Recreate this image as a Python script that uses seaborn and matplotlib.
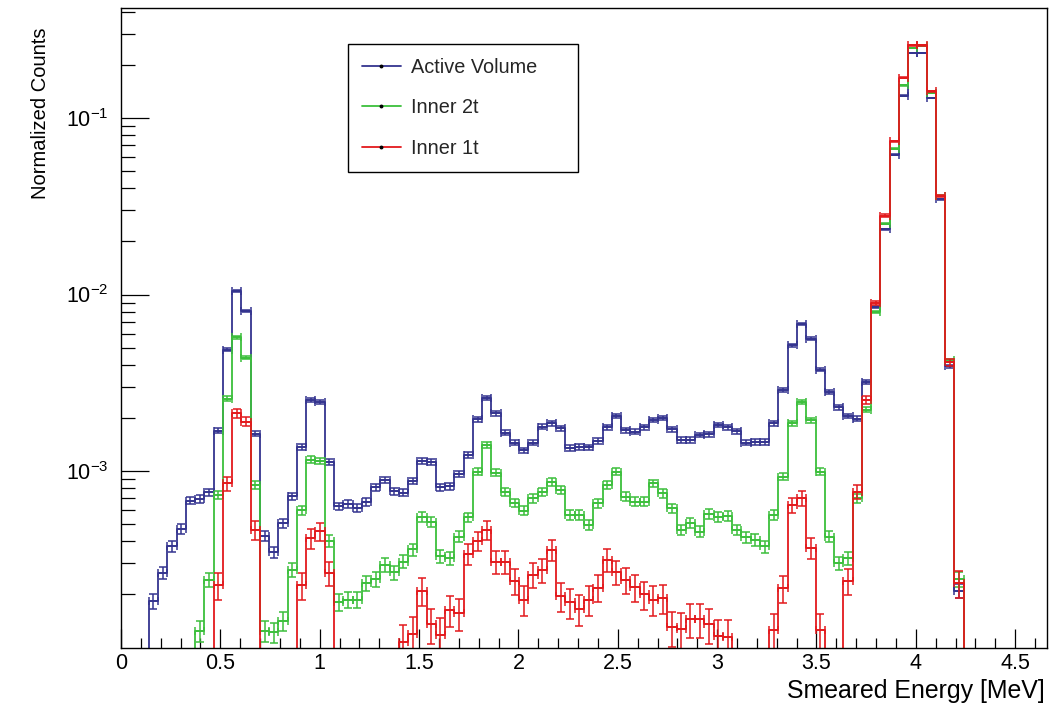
import numpy as np
import pandas as pd
import matplotlib
matplotlib.use("Agg")
import matplotlib.pyplot as plt
import seaborn as sns
from matplotlib.lines import Line2D
from matplotlib.ticker import (MultipleLocator, FixedLocator, LogLocator,
                               NullFormatter, LogFormatterSciNotation,
                               FuncFormatter)

# Histogram binning: 100 bins between 0 and 4.66 MeV
N_BINS = 100
E_MIN, E_MAX = 0.0, 4.66

# Normalized counts per bin (bins 0..99)
active_volume = [
    0, 0, 0, 1.83e-4, 2.64e-4, 3.74e-4, 4.7e-4, 6.8e-4, 6.95e-4, 7.6e-4,
    1.69e-3, 4.87e-3, 1.05e-2, 8.05e-3, 1.63e-3, 4.3e-4, 3.46e-4, 5.06e-4, 7.2e-4, 1.37e-3,
    2.54e-3, 2.46e-3, 1.13e-3, 6.3e-4, 6.5e-4, 6.15e-4, 6.7e-4, 8.1e-4, 8.9e-4, 7.7e-4,
    7.54e-4, 8.8e-4, 1.14e-3, 1.12e-3, 8.1e-4, 8.2e-4, 9.6e-4, 1.23e-3, 1.96e-3, 2.6e-3,
    2.12e-3, 1.65e-3, 1.45e-3, 1.31e-3, 1.45e-3, 1.78e-3, 1.86e-3, 1.75e-3, 1.35e-3, 1.37e-3,
    1.36e-3, 1.48e-3, 1.77e-3, 2.05e-3, 1.7e-3, 1.67e-3, 1.77e-3, 1.95e-3, 2.0e-3, 1.72e-3,
    1.5e-3, 1.5e-3, 1.6e-3, 1.62e-3, 1.82e-3, 1.77e-3, 1.68e-3, 1.45e-3, 1.46e-3, 1.46e-3,
    1.86e-3, 2.87e-3, 5.15e-3, 6.83e-3, 5.62e-3, 3.75e-3, 2.8e-3, 2.29e-3, 2.05e-3, 1.98e-3,
    3.19e-3, 8.5e-3, 2.34e-2, 6.2e-2, 0.134, 0.233, 0.233, 0.13, 3.47e-2, 3.92e-3,
    2.09e-4, 0, 0, 0, 0, 0, 0, 0, 0, 0,
]

inner_2t = [
    0, 0, 0, 0, 0, 0, 0, 0, 1.24e-4, 2.42e-4,
    7.3e-4, 2.57e-3, 5.74e-3, 4.39e-3, 8.3e-4, 1.24e-4, 1.22e-4, 1.42e-4, 2.76e-4, 6.0e-4,
    1.16e-3, 1.14e-3, 4.02e-4, 1.82e-4, 1.87e-4, 1.87e-4, 2.32e-4, 2.44e-4, 2.94e-4, 2.67e-4,
    3.07e-4, 3.6e-4, 5.5e-4, 5.17e-4, 3.28e-4, 3.2e-4, 4.25e-4, 5.47e-4, 9.9e-4, 1.4e-3,
    9.8e-4, 7.6e-4, 6.6e-4, 5.97e-4, 7.0e-4, 7.64e-4, 8.7e-4, 7.8e-4, 5.64e-4, 5.64e-4,
    4.95e-4, 6.57e-4, 8.34e-4, 9.9e-4, 7.16e-4, 6.7e-4, 6.7e-4, 8.5e-4, 7.48e-4, 6.15e-4,
    4.64e-4, 5.06e-4, 4.54e-4, 5.7e-4, 5.52e-4, 5.55e-4, 4.64e-4, 4.2e-4, 4.07e-4, 3.74e-4,
    5.64e-4, 9.3e-4, 1.86e-3, 2.46e-3, 1.94e-3, 9.9e-4, 4.25e-4, 3.01e-4, 3.21e-4, 7.0e-4,
    2.22e-3, 7.96e-3, 2.52e-2, 6.7e-2, 0.153, 0.249, 0.255, 0.139, 3.62e-2, 4.23e-3,
    2.43e-4, 0, 0, 0, 0, 0, 0, 0, 0, 0,
]

inner_1t = [
    0, 0, 0, 0, 0, 0, 0, 0, 0, 0,
    2.25e-4, 8.5e-4, 2.12e-3, 1.9e-3, 4.64e-4, 0, 0, 0, 0, 2.25e-4,
    4.15e-4, 4.55e-4, 2.64e-4, 0, 0, 0, 0, 0, 0, 0,
    1.08e-4, 1.2e-4, 2.1e-4, 1.35e-4, 1.18e-4, 1.64e-4, 1.57e-4, 3.4e-4, 4.02e-4, 4.64e-4,
    3.07e-4, 3.07e-4, 2.37e-4, 1.87e-4, 2.58e-4, 2.76e-4, 3.58e-4, 1.95e-4, 1.8e-4, 1.66e-4,
    1.87e-4, 2.18e-4, 3.14e-4, 2.67e-4, 2.42e-4, 2.2e-4, 2.0e-4, 1.87e-4, 1.91e-4, 1.3e-4,
    1.27e-4, 1.45e-4, 1.45e-4, 1.35e-4, 1.16e-4, 1.15e-4, 0, 0, 0, 0,
    1.26e-4, 2.17e-4, 6.42e-4, 7.0e-4, 3.66e-4, 1.26e-4, 0, 0, 2.37e-4, 7.64e-4,
    2.53e-3, 9.0e-3, 2.8e-2, 7.36e-2, 0.169, 0.258, 0.258, 0.142, 3.62e-2, 4.12e-3,
    2.31e-4, 0, 0, 0, 0, 0, 0, 0, 0, 0,
]

series_labels = ["Active Volume", "Inner 2t", "Inner 1t"]
series_values = [active_volume, inner_2t, inner_1t]
series_colors = ["#34348f", "#3cbf3c", "#e3191c"]
# number of entries behind each normalised histogram (sets the Poisson errors)
series_entries = [6.0e5, 4.5e5, 1.5e5]

x_tick_step = 0.5
x_minor_step = 0.1
y_major_ticks = [1e-3, 1e-2, 1e-1]
y_limits = (1e-4, 0.42)

sns.set_theme(style="ticks")
plt.rcParams["font.family"] = ["Liberation Sans", "DejaVu Sans"]
plt.rcParams["mathtext.fontset"] = "custom"
plt.rcParams["mathtext.rm"] = "Liberation Sans"
plt.rcParams["mathtext.it"] = "Liberation Sans:italic"
plt.rcParams["mathtext.bf"] = "Liberation Sans:bold"
plt.rcParams["axes.edgecolor"] = "black"

edges = np.linspace(E_MIN, E_MAX, N_BINS + 1)
centers = 0.5 * (edges[:-1] + edges[1:])
bin_width = edges[1] - edges[0]

W, H = 1061, 707
fig = plt.figure(figsize=(W / 100, H / 100), dpi=100)
fig.patch.set_facecolor("white")
ax = fig.add_axes([121 / W, 1 - 647.5 / H, 926 / W, 639.5 / H])
ax.set_facecolor("white")

for label, vals, color, n_entries in zip(series_labels, series_values,
                                         series_colors, series_entries):
    vals = np.asarray(vals, dtype=float)
    df = pd.DataFrame({"energy": centers, "counts": vals})
    sns.histplot(data=df, x="energy", weights="counts", bins=N_BINS,
                 binrange=(E_MIN, E_MAX), element="step", fill=False,
                 color=color, linewidth=1.3, ax=ax)
    mask = vals > 0
    err = np.sqrt(vals / n_entries)
    ax.errorbar(centers[mask], vals[mask], xerr=bin_width / 2,
                yerr=err[mask], fmt="none", ecolor=color, elinewidth=1.1,
                capsize=2.9, capthick=1.1)

ax.set_yscale("log")
ax.set_xlim(E_MIN, E_MAX)
ax.set_ylim(*y_limits)

# x axis
ax.xaxis.set_major_locator(MultipleLocator(x_tick_step))
ax.xaxis.set_minor_locator(MultipleLocator(x_minor_step))
ax.xaxis.set_major_formatter(FuncFormatter(lambda v, _: f"{v:g}"))
# y axis
ax.yaxis.set_major_locator(FixedLocator(y_major_ticks))
ax.yaxis.set_minor_locator(LogLocator(base=10, subs=np.arange(2, 10)))
ax.yaxis.set_major_formatter(LogFormatterSciNotation())
ax.yaxis.set_minor_formatter(NullFormatter())

ax.tick_params(axis="x", which="major", direction="in", length=14, width=0.9,
               labelsize=15.5, pad=4, color="black", labelcolor="black",
               top=False)
ax.tick_params(axis="x", which="minor", direction="in", length=7, width=0.9,
               color="black", top=False)
ax.tick_params(axis="y", which="major", direction="in", length=20, width=0.9,
               labelsize=15.5, pad=9, color="black", labelcolor="black",
               right=False)
ax.tick_params(axis="y", which="minor", direction="in", length=10, width=0.9,
               color="black", right=False)

for spine in ax.spines.values():
    spine.set_visible(True)
    spine.set_color("black")
    spine.set_linewidth(1.0)

ax.set_xlabel("Smeared Energy [MeV]", fontsize=17.9, loc="right",
              color="black")
ax.xaxis.set_label_coords(0.998, -0.05)
ax.set_ylabel("Normalized Counts", fontsize=14.5, loc="top", color="black")
ax.yaxis.set_label_coords(-0.077, 0.97)

handles = [Line2D([], [], color=c, lw=1.3, marker="o", markersize=1.8,
                  markerfacecolor="black", markeredgecolor="black")
           for c in series_colors]
leg = fig.legend(handles, series_labels, loc="upper left",
                 bbox_to_anchor=(348 / W, 1 - 170 / H, 230 / W, 126 / H),
                 mode="expand", borderaxespad=0, fontsize=14.3,
                 handlelength=2.0, handletextpad=0.5, labelspacing=1.1,
                 borderpad=0.68, frameon=True, fancybox=False,
                 edgecolor="black", framealpha=1.0)
leg.get_frame().set_linewidth(1.0)

fig.savefig("out.png", dpi=100, facecolor="white")
